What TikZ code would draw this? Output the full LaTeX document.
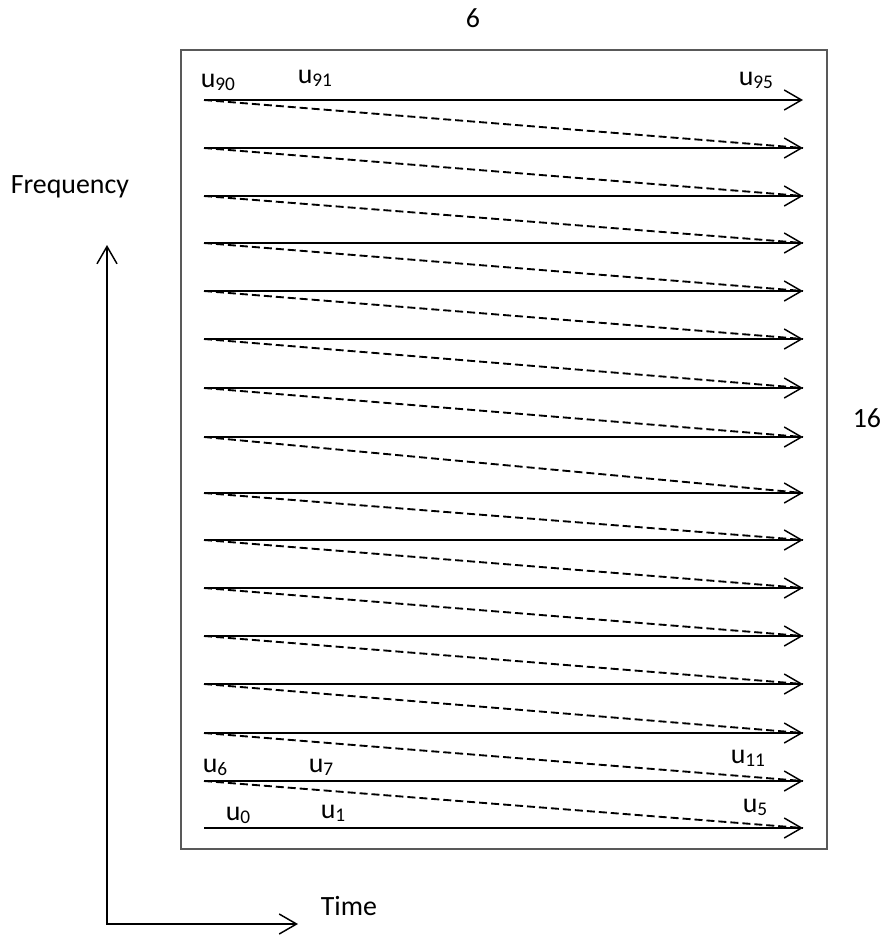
\documentclass[tikz,border=0pt]{standalone}
\usepackage{fontspec}
\setmainfont{Carlito}
\usetikzlibrary{arrows.meta}
\newcommand\sub[1]{\raisebox{-2.5pt}{\fontsize{14.5}{15}\selectfont #1}}
\tikzset{
  every picture/.style={line width=1.2pt},
  barb/.tip={Straight Barb[length=13pt, width=15pt, line width=1.1pt]},
  flow/.style={-barb},
  axes/.style={barb-barb},
  zig/.style={dash pattern=on 6pt off 3pt, line width=1.4pt},
  frame/.style={draw=black!65, line width=1.2pt},
  lbl/.style={inner sep=0pt, anchor=base west, font=\fontsize{20.9}{25}\selectfont},
}
\begin{document}
\begin{tikzpicture}[x=0.75pt, y=-0.75pt]
  \useasboundingbox (0,0) rectangle (880,936);
  % grid frame
  \draw[frame] (181,50) rectangle (827,849);
  % rows, bottom to top
  \foreach \y [count=\k] in {828,781,733,684,636,588,540,493,437,388,339,291,243,196,148,100} {
    \coordinate (s\k) at (204,\y);
    \coordinate (e\k) at (803,\y);
    \draw[flow] (s\k) -- (e\k);
  }
  \foreach \k [evaluate=\k as \n using int(\k+1)] in {1,...,15}
    \draw[zig] (s\n) -- (e\k);
  % labels
  \node[lbl] (u90) at (200,87) {u\sub{90}};
  \node[lbl] (u91) at (297,83) {u\sub{91}};
  \node[lbl] (u95) at (738,85) {u\sub{95}};
  \node[lbl] (u6) at (202,772) {u\sub{6}};
  \node[lbl] (u7) at (308,772) {u\sub{7}};
  \node[lbl] (u11) at (730,763) {u\sub{11}};
  \node[lbl] (u0) at (225,820) {u\sub{0}};
  \node[lbl] (u1) at (320,818) {u\sub{1}};
  \node[lbl] (u5) at (742,812) {u\sub{5}};
  \node[lbl] (ncols) at (465,27) {6};
  \node[lbl] (nrows) at (852,427) {16};
  % axes
  \coordinate (origin) at (107,924);
  \coordinate (ftop) at (107,245);
  \coordinate (tend) at (298,924);
  \draw[axes] (ftop) -- (origin) -- (tend);
  \node[lbl] (freq) at (10,193) {Frequency};
  \node[lbl] (time) at (320,915) {Time};
\end{tikzpicture}
\end{document}
